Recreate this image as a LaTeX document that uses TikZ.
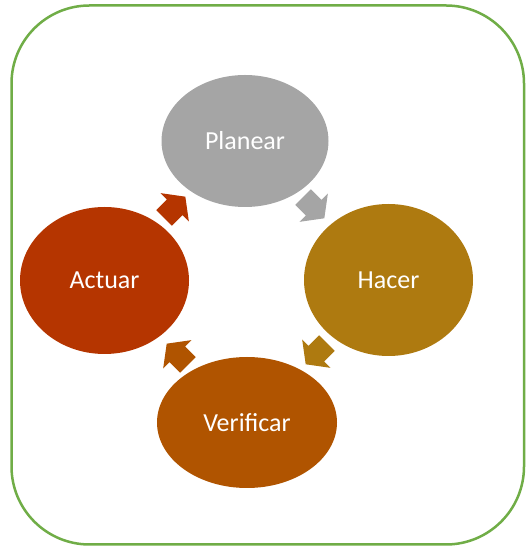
\documentclass[tikz,border=0pt]{standalone}
\usepackage{fontspec}
\setmainfont{Carlito}
\usetikzlibrary{shapes.geometric}
\definecolor{frameg}{HTML}{70AD47}
\definecolor{cplan}{HTML}{A5A5A5}
\definecolor{chac}{HTML}{AE7A10}
\definecolor{cver}{HTML}{B05400}
\definecolor{cact}{HTML}{B53500}
\tikzset{
  phase/.style={ellipse, inner sep=0pt, text=white, font=\fontsize{26}{30}\selectfont},
  blockarrow/.pic={\fill (-14,-11) -- (1,-11) -- (1,-20) -- (16,0) -- (1,20) -- (1,11) -- (-14,11) -- cycle;}
}
\begin{document}
\begin{tikzpicture}[x=1pt,y=1pt]
\useasboundingbox (0,0) rectangle (525,546);
\draw[frameg, line width=2.5pt, rounded corners=78pt] (11.5,1.5) rectangle (524,540.5);
\node[phase, fill=cplan, minimum width=167pt, minimum height=132pt] (plan) at (245,405) {Planear};
\node[phase, fill=chac, minimum width=169pt, minimum height=152pt] (hac) at (388.5,266) {Hacer};
\node[phase, fill=cver, minimum width=180pt, minimum height=131pt] (ver) at (247,123.5) {Verificar};
\node[phase, fill=cact, minimum width=169pt, minimum height=147pt] (act) at (104.5,265.5) {Actuar};
\pic[cact, rotate=45] at (174,338) {blockarrow};
\pic[cplan, rotate=-45] at (313,339) {blockarrow};
\pic[chac, rotate=-135] at (317,193) {blockarrow};
\pic[cver, rotate=135] at (178,191) {blockarrow};
\end{tikzpicture}
\end{document}
